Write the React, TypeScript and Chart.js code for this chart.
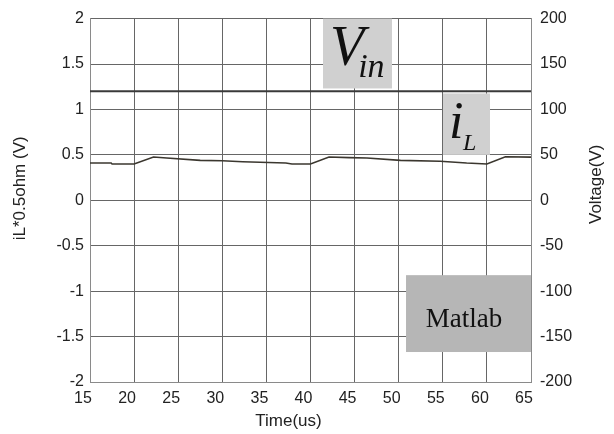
import React, { useEffect, useRef } from "react";
import { Chart, registerables } from "chart.js";

Chart.register(...registerables);

// ---- data ----
const time = [15, 17.4, 17.5, 20, 22.2, 23.7, 27.5, 30, 32.3, 37.2, 37.9, 40, 42.1, 44.4, 46.4, 50.2, 54.7, 57.7, 60, 62.1, 65];
const iL = [0.41, 0.41, 0.40, 0.40, 0.476, 0.465, 0.44, 0.435, 0.425, 0.41, 0.40, 0.40, 0.476, 0.47, 0.465, 0.44, 0.43, 0.41, 0.40, 0.48, 0.475];
const vinTime = [15, 65];
const vin = [120, 120];

const xTitle = "Time(us)";
const yLeftTitle = "iL*0.5ohm (V)";
const yRightTitle = "Voltage(V)";

// annotation boxes in data units (x: time, y: left axis)
const BOXES = [
  { x0: 41.42, x1: 49.24, y0: 2.0, y1: 1.231, color: "#d0d0d0" },
  { x0: 55.02, x1: 60.35, y0: 1.176, y1: 0.50, color: "#d0d0d0" },
  { x0: 50.83, x1: 65, y0: -0.824, y1: -1.67, color: "#b6b6b6" },
];
const TEXTS = [
  { text: "V", x: 42.2, y: 1.484, font: "italic 56px 'Liberation Serif'", align: "left" },
  { text: "in", x: 45.4, y: 1.352, font: "italic 34px 'Liberation Serif'", align: "left" },
  { text: "i", x: 55.7, y: 0.681, font: "italic 52px 'Liberation Serif'", align: "left" },
  { text: "L", x: 57.3, y: 0.549, font: "italic 24px 'Liberation Serif'", align: "left" },
  { text: "Matlab", x: 57.4, y: -1.396, font: "27px 'Liberation Serif'", align: "center" },
];

const annotPlugin = {
  id: "annot",
  afterDraw(chart: any) {
    const { ctx, scales, chartArea } = chart;
    const xs = scales.x;
    const ys = scales.y;
    ctx.save();
    for (const b of BOXES) {
      const x0 = xs.getPixelForValue(b.x0);
      const x1 = xs.getPixelForValue(b.x1);
      const y0 = ys.getPixelForValue(b.y0);
      const y1 = ys.getPixelForValue(b.y1);
      ctx.fillStyle = b.color;
      ctx.fillRect(x0, y0, x1 - x0, y1 - y0);
    }
    ctx.fillStyle = "#111";
    ctx.textBaseline = "alphabetic";
    for (const t of TEXTS) {
      ctx.font = t.font;
      ctx.textAlign = t.align as CanvasTextAlign;
      ctx.fillText(t.text, xs.getPixelForValue(t.x), ys.getPixelForValue(t.y));
    }
    // axis titles
    const midY = (chartArea.top + chartArea.bottom) / 2;
    const midX = (chartArea.left + chartArea.right) / 2;
    ctx.fillStyle = "#222";
    ctx.font = "17px 'Liberation Sans'";
    ctx.textAlign = "center";
    ctx.textBaseline = "middle";
    ctx.save();
    ctx.translate(20, midY - 12);
    ctx.rotate(-Math.PI / 2);
    ctx.fillText(yLeftTitle, 0, 0);
    ctx.restore();
    ctx.save();
    ctx.translate(596, midY - 16);
    ctx.rotate(-Math.PI / 2);
    ctx.fillText(yRightTitle, 0, 0);
    ctx.restore();
    ctx.fillText(xTitle, midX - 22, 421);
    ctx.restore();
  },
};

export default function App() {
  const ref = useRef<HTMLCanvasElement>(null);
  useEffect(() => {
    if (!ref.current) return;
    const tickFont = { family: "'Liberation Sans'", size: 16 };
    const fmt = (v: any) => String(v);
    const chart = new Chart(ref.current, {
      type: "line",
      data: {
        datasets: [
          {
            label: "Vin",
            data: vinTime.map((t, i) => ({ x: t, y: vin[i] })),
            yAxisID: "y2",
            borderColor: "#3a3a3a",
            borderWidth: 2,
            pointRadius: 0,
            tension: 0,
          },
          {
            label: "iL",
            data: time.map((t, i) => ({ x: t, y: iL[i] })),
            yAxisID: "y",
            borderColor: "#3b372f",
            borderWidth: 1.6,
            pointRadius: 0,
            tension: 0,
          },
        ],
      },
      options: {
        responsive: false,
        animation: false,
        devicePixelRatio: 1,
        layout: { padding: { top: 18, left: 0, right: 0, bottom: 0 } },
        plugins: { legend: { display: false }, tooltip: { enabled: false } },
        scales: {
          x: {
            type: "linear",
            min: 15,
            max: 65,
            ticks: { stepSize: 5, font: tickFont, color: "#222", padding: 7, labelOffset: -7, maxRotation: 0, callback: fmt },
            grid: { color: "#666", lineWidth: 1, drawTicks: false },
            border: { color: "#8a8a8a" },
            afterFit: (s: any) => { s.height = 52; },
          },
          y: {
            position: "left",
            min: -2,
            max: 2,
            ticks: { stepSize: 0.5, font: tickFont, color: "#222", padding: 6, callback: fmt },
            grid: { color: "#666", lineWidth: 1, drawTicks: false },
            border: { color: "#8a8a8a" },
            afterFit: (s: any) => { s.width = 90; },
          },
          y2: {
            position: "right",
            min: -200,
            max: 200,
            ticks: { stepSize: 50, font: tickFont, color: "#222", padding: 9, callback: fmt },
            grid: { drawOnChartArea: false, drawTicks: false },
            border: { color: "#8a8a8a" },
            afterFit: (s: any) => { s.width = 83; },
          },
        },
      },
      plugins: [annotPlugin],
    });
    return () => chart.destroy();
  }, []);
  return (
    <div style={{ position: "absolute", left: 0, top: 0, width: 614, height: 434, background: "#fff" }}>
      <canvas ref={ref} width={614} height={434} />
    </div>
  );
}
